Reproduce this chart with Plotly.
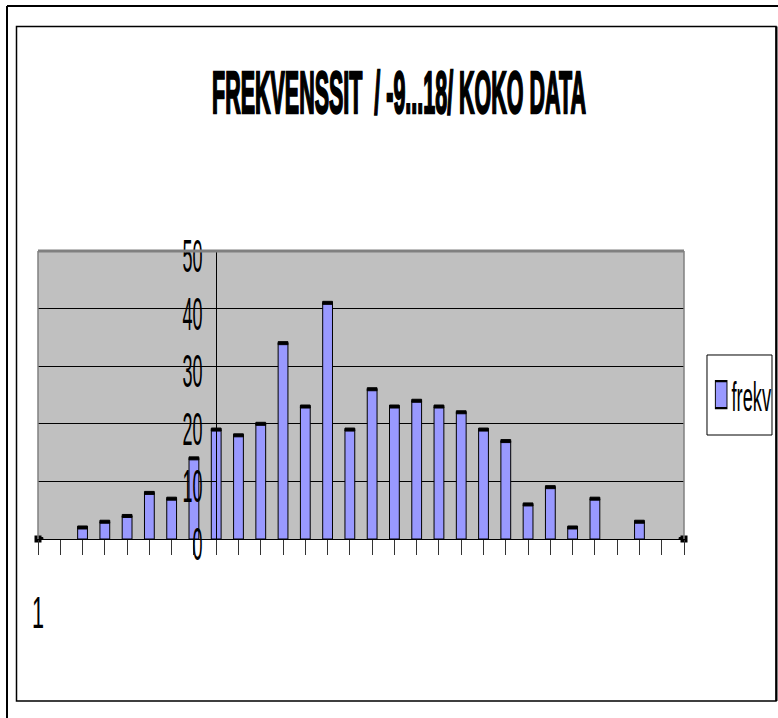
import plotly.graph_objects as go

# ---- data ----
freq = [0, None, 2, 3, 4, 8, 7, 14, 19, 18, 20, 34, 23, 41, 19, 26, 23, 24,
        23, 22, 19, 17, 6, 9, 2, 7, None, 3, None, 0]
x_tick_labels = ["1"] + [""] * (len(freq) - 1)
y_ticks = [0, 10, 20, 30, 40, 50]
series_name = "frekv"
title_text = "FREKVENSSIT\u00a0 / -9...18/ KOKO DATA"
y_cross_index = 8  # category where the value axis crosses

positions = list(range(len(freq)))

# ---- geometry ----
W, H = 778, 718
L, R, T, B = 38, 94, 251, 179
PW, PH = W - L - R, H - T - B


def px(x):
    return (x - L) / PW


def py(y):
    return (H - B - y) / PH


BAR_COLOR = "#9999FF"
FONT = "Liberation Sans, Arial, sans-serif"

fig = go.Figure()

fig.add_trace(go.Bar(
    x=positions, y=freq, name=series_name, width=0.44,
    marker=dict(color=BAR_COLOR, line=dict(color="black", width=1)),
    showlegend=True,
))

# thick black top caps of the bars (derived from the values)
cap = 0.52
cap_base = [None if v is None else v - cap / 2 for v in freq]
cap_h = [None if v is None else cap for v in freq]
fig.add_trace(go.Bar(
    x=positions, y=cap_h, base=cap_base, width=0.44,
    marker=dict(color="black", line=dict(color="black", width=1)),
    showlegend=False, hoverinfo="skip", cliponaxis=False,
))

# zero-valued entries shown as small black squares
zx = [p for p, v in zip(positions, freq) if v == 0]
zy = [0 for p, v in zip(positions, freq) if v == 0]
fig.add_trace(go.Scatter(
    x=zx, y=zy, mode="markers",
    marker=dict(symbol="square", size=7, color="black"),
    showlegend=False, hoverinfo="skip", cliponaxis=False,
))

shapes = [
    # outer frame
    dict(type="line", xref="paper", yref="paper", x0=px(7), x1=px(778), y0=py(6), y1=py(6),
         line=dict(color="black", width=2)),
    dict(type="line", xref="paper", yref="paper", x0=px(7), x1=px(7), y0=py(6), y1=py(718),
         line=dict(color="black", width=2)),
    # inner frame
    dict(type="rect", xref="paper", yref="paper", x0=px(16.5), x1=px(776), y0=py(26.5), y1=py(701),
         line=dict(color="black", width=1.5)),
    dict(type="line", xref="paper", yref="paper", x0=px(776.5), x1=px(776.5), y0=py(26.5), y1=py(701),
         line=dict(color="black", width=2)),
    # plot area borders
    dict(type="line", xref="x domain", yref="y domain", x0=0, x1=1, y0=1, y1=1,
         line=dict(color="#808080", width=3), layer="above"),
    dict(type="line", xref="x domain", yref="y domain", x0=0, x1=0, y0=0, y1=1,
         line=dict(color="#808080", width=1.5), layer="above"),
    dict(type="line", xref="x domain", yref="y domain", x0=1, x1=1, y0=0, y1=1,
         line=dict(color="#808080", width=1.5), layer="above"),
]

fig.update_layout(
    width=W, height=H, autosize=False,
    margin=dict(l=L, r=R, t=T, b=B, pad=0, autoexpand=False),
    paper_bgcolor="white", plot_bgcolor="#C0C0C0",
    barmode="overlay",
    font=dict(family=FONT, color="black", size=18),
    title=dict(text=title_text, xref="container", yref="container",
               x=399 / W, y=1 - 93 / H, xanchor="center", yanchor="middle",
               font=dict(family=FONT, size=22, color="black", weight="bold")),
    xaxis=dict(range=[0, len(freq) - 1], showgrid=False, zeroline=False,
               showline=True, linecolor="black", linewidth=1,
               ticks="outside", ticklen=15, tickcolor="#333333", tickwidth=1,
               tickmode="array", tickvals=positions, ticktext=x_tick_labels,
               ticklabelstandoff=42, tickfont=dict(size=18), automargin=False),
    yaxis=dict(range=[0, 50], tickmode="array", tickvals=y_ticks,
               showgrid=True, gridcolor="black", gridwidth=1, zeroline=False,
               showline=True, linecolor="black", linewidth=1,
               anchor="free", position=y_cross_index / (len(freq) - 1),
               ticks="outside", ticklen=6, tickcolor="black",
               ticklabelstandoff=4, ticklabelshift=5, tickfont=dict(size=18),
               automargin=False),
    legend=dict(x=px(739.5), y=py(395), xanchor="center", yanchor="middle",
                bgcolor="white", bordercolor="black", borderwidth=1,
                font=dict(size=22)),
    shapes=shapes,
    showlegend=True,
)

post = r"""
document.documentElement.style.margin = '0';
document.documentElement.style.overflow = 'hidden';
document.body.style.margin = '0';
document.body.style.overflow = 'hidden';
var gd = document.getElementById('{plot_id}');
function stretch(el, sx, sy, anchor) {
  if (!el || el.getAttribute('data-str')) return;
  var bb = el.getBBox();
  if (!bb.width) return;
  var ax = anchor === 'end' ? bb.x + bb.width : (anchor === 'start' ? bb.x : bb.x + bb.width / 2);
  var cy = bb.y + bb.height / 2;
  var t = el.getAttribute('transform') || '';
  el.setAttribute('transform', t + ' translate(' + ax + ',' + cy + ') scale(' + sx + ',' + sy + ') translate(' + (-ax) + ',' + (-cy) + ')');
  el.setAttribute('data-str', '1');
}
gd.querySelectorAll('.ytick text').forEach(function (el) { stretch(el, 1.0, 2.6, 'end'); });
gd.querySelectorAll('.xtick text').forEach(function (el) { stretch(el, 1.2, 2.5, 'middle'); });
var tt = gd.querySelector('.gtitle');
if (tt) { var tb = tt.getBBox(); stretch(tt, 374 / tb.width, 2.7, 'middle'); tt.style.stroke = 'black'; tt.style.strokeWidth = '0.9px'; }
var lg = gd.querySelector('g.legend');
if (lg) {
  lg.querySelectorAll('[clip-path]').forEach(function (e) { e.removeAttribute('clip-path'); });
  lg.querySelectorAll('rect.bg').forEach(function (r) { r.setAttribute('vector-effect', 'non-scaling-stroke'); });
  var lb = lg.getBBox();
  stretch(lg, 65 / lb.width, 80 / lb.height, 'middle');
  lg.querySelectorAll('text.legendtext').forEach(function (el) {
    var t = el.getAttribute('transform') || '';
    el.setAttribute('transform', t + ' translate(-5,0)');
    stretch(el, 1.2, 1.0, 'start');
  });
  lg.querySelectorAll('g.legendpoints path').forEach(function (el) { stretch(el, 1.4, 1.2, 'middle'); });
}
"""

fig.write_html("out.html", post_script=post, config={"displayModeBar": False})
